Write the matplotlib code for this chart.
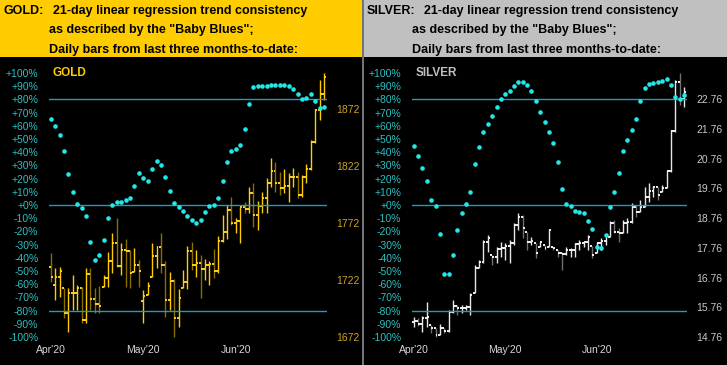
import numpy as np
import matplotlib.pyplot as plt
from matplotlib.patches import Rectangle
from matplotlib.lines import Line2D

W, H = 727, 365

months = ["Apr'20", "May'20", "Jun'20"]
month_idx = [0, 21, 42]
pct_ticks = list(range(-100, 101, 10))

# gold: "Baby Blues" (%) and daily OHLC
gold_bb = [65.4, 59.8, 52.8, 41.2, 23.5, 10.1, 0.8, -2, -8.3, -27.8,
           -41.7, -38.1, -26.8, -9.6, 0.3, 2.5, 2.5, 3.8, 5.1, 14.4,
           24, 20.2, 18.4, 27, 33.1, 30.5, 21.2, 10.8, 1.3, -1.3,
           -4.3, -8.3, -11.4, -13.4, -11.4, -5, -0.8, 0.3, 5.6, 18.4,
           32.3, 41.2, 42.2, 45.2, 57.8, 76.8, 89.4, 90.2, 90.2, 90.2,
           90.7, 90.7, 90.7, 91.2, 89.9, 88.1, 84.1, 80.3, 81.3, 84.1,
           79, 73.7, 74.2]
gold_open = [1733, 1718, 1724.4, 1730.2, 1693.4, 1710.3, 1710.9, 1714.7, 1686.9, 1727.3,
             1705.1, 1701.0, 1699.2, 1724.1, 1738.7, 1754.2, 1734.6, 1748.3, 1747.8, 1727.9,
             1735.2, 1703.9, 1708.0, 1716.8, 1743.1, 1750.7, 1735.2, 1704.5, 1721.4, 1688.4,
             1706.0, 1720.6, 1747.8, 1735.2, 1737.2, 1731.7, 1735.2, 1736.1, 1730.2, 1756.2,
             1764.4, 1783.4, 1772.3, 1774.1, 1785.8, 1784.3, 1798.0, 1779.0, 1787.2, 1794.2,
             1807.4, 1817.6, 1807.4, 1802.4, 1804.5, 1812.7, 1812.7, 1796.6, 1812.1, 1819.1,
             1843.4, 1871.1, 1884.9]
gold_high = [1746.0, 1732.3, 1733.7, 1714.7, 1714.7, 1726.4, 1717.6, 1716.2, 1732.3, 1732.3,
             1714.7, 1716.8, 1726.4, 1746.9, 1763.0, 1776.1, 1754.2, 1757.7, 1748.3, 1749.8,
             1739.6, 1713.3, 1720.6, 1754.8, 1751.9, 1763.0, 1739.0, 1729.3, 1722.9, 1713.8,
             1730.8, 1751.9, 1755.7, 1748.3, 1744.0, 1740.2, 1739.0, 1748.9, 1760.6, 1779.0,
             1787.8, 1795.1, 1776.1, 1786.4, 1790.1, 1803.9, 1807.4, 1791.6, 1799.5, 1811.2,
             1829.3, 1825.8, 1817.0, 1819.1, 1815.6, 1820.0, 1817.0, 1814.1, 1823.8, 1844.8,
             1871.7, 1897.5, 1903.9]
gold_low = [1720.6, 1704.5, 1707.4, 1688.4, 1676.7, 1695.7, 1695.7, 1684.0, 1684.0, 1695.7,
            1692.8, 1693.4, 1716.2, 1716.2, 1727.9, 1733.7, 1726.4, 1716.2, 1714.7, 1729.3,
            1716.2, 1684.0, 1708.9, 1724.9, 1732.3, 1727.9, 1689.9, 1695.7, 1672.3, 1681.1,
            1714.7, 1713.8, 1730.8, 1724.9, 1706.0, 1722.0, 1717.6, 1723.5, 1728.5, 1755.7,
            1757.7, 1770.3, 1763.5, 1754.2, 1780.5, 1780.5, 1768.8, 1765.9, 1780.5, 1780.5,
            1803.9, 1799.5, 1796.6, 1798.0, 1790.7, 1803.9, 1793.6, 1795.1, 1806.8, 1818.5,
            1841.9, 1862.4, 1879.9]
gold_close = [1724.4, 1724.4, 1730.2, 1693.4, 1710.3, 1710.9, 1714.7, 1686.9, 1727.3, 1705.1,
              1701.0, 1699.2, 1724.1, 1738.7, 1754.2, 1734.6, 1748.3, 1747.8, 1727.9, 1735.2,
              1730.0, 1708.0, 1716.8, 1743.1, 1750.7, 1735.2, 1704.5, 1721.4, 1688.4, 1706.0,
              1720.6, 1747.8, 1735.2, 1737.2, 1731.7, 1735.2, 1736.1, 1730.2, 1756.2, 1764.4,
              1783.4, 1772.3, 1774.1, 1785.8, 1784.3, 1798.0, 1779.0, 1787.2, 1794.2, 1807.4,
              1817.6, 1807.4, 1802.4, 1804.5, 1812.7, 1812.7, 1796.6, 1812.1, 1819.1, 1843.4,
              1871.1, 1884.9, 1900.4]
gold_price_ticks = [1672, 1722, 1772, 1822, 1872]

# silver
silver_bb = [44.7, 37.1, 28.3, 18.4, 3.8, -0.8, -22.2, -52.3, -52.3, -38.1,
             -18.9, -6.3, 0.8, 10.1, 31.1, 43.7, 55.1, 61.4, 67.4, 74.2,
             80.1, 84.3, 86.6, 90.2, 93, 93, 90.7, 86.6, 79, 70.7,
             62.7, 55.1, 46.7, 32.3, 11.9, 0.8, -0.5, -4.5, -5.3, -6.3,
             -11.9, -18, -31.6, -32.8, -22.5, -1.5, 9.6, 24.5, 41.1, 49,
             56.6, 64.9, 78.6, 88.9, 91.4, 92.2, 93.2, 94.2, 95.2, 91.1,
             82, 80.5, 83.6]
silver_open = [15.25, 15.31, 15.20, 15.39, 15.42, 15.05, 14.83, 15.05, 14.97, 15.61,
               15.80, 15.72, 15.72, 15.76, 16.17, 17.07, 17.30, 17.97, 18.08, 17.46,
               17.71, 17.74, 17.82, 17.91, 18.53, 18.81, 18.42, 17.97, 18.00, 17.60,
               17.95, 17.74, 18.36, 17.74, 17.60, 17.55, 17.69, 17.69, 17.89, 17.91,
               17.97, 18.14, 17.52, 17.91, 18.00, 18.05, 18.58, 18.30, 18.27, 18.61,
               18.64, 19.15, 18.98, 19.15, 19.48, 19.68, 19.82, 19.54, 19.76, 20.36,
               21.70, 23.35, 22.76]
silver_high = [15.44, 15.39, 15.47, 15.95, 15.16, 15.05, 15.20, 15.05, 15.67, 16.00,
               15.84, 15.84, 15.84, 16.23, 17.18, 17.35, 18.02, 18.19, 17.52, 17.80,
               17.97, 17.91, 18.02, 18.58, 18.92, 18.87, 18.30, 18.14, 17.91, 17.97,
               17.86, 18.38, 17.80, 17.69, 17.63, 17.80, 17.74, 17.91, 18.02, 18.00,
               18.19, 17.82, 17.97, 18.08, 18.14, 18.67, 18.70, 18.42, 18.70, 18.75,
               19.26, 19.20, 19.37, 19.82, 19.95, 19.84, 19.82, 19.87, 20.38, 21.72,
               23.41, 23.65, 23.18]
silver_low = [15.11, 15.13, 14.94, 15.11, 14.88, 14.77, 14.83, 14.88, 14.94, 15.56,
              15.50, 15.56, 15.67, 15.50, 16.23, 17.07, 17.24, 17.63, 17.18, 17.24,
              17.46, 17.35, 17.24, 17.86, 18.36, 18.08, 17.69, 17.86, 17.41, 17.80,
              17.69, 17.80, 17.69, 17.46, 17.01, 17.52, 17.46, 17.46, 17.69, 17.80,
              17.69, 17.41, 17.58, 17.69, 17.86, 18.14, 18.25, 17.97, 18.25, 18.25,
              18.58, 18.81, 18.98, 19.15, 19.31, 19.48, 19.37, 19.65, 19.76, 20.32,
              21.67, 22.57, 22.51]
silver_close = [15.31, 15.20, 15.39, 15.42, 15.05, 14.83, 15.05, 14.97, 15.61, 15.80,
                15.72, 15.72, 15.76, 16.17, 17.07, 17.30, 17.97, 18.08, 17.46, 17.71,
                17.74, 17.82, 17.91, 18.53, 18.81, 18.42, 17.97, 18.00, 17.60, 17.95,
                17.74, 18.36, 17.74, 17.60, 17.55, 17.69, 17.69, 17.89, 17.91, 17.97,
                18.14, 17.52, 17.91, 18.00, 18.05, 18.58, 18.30, 18.27, 18.61, 18.64,
                19.15, 18.98, 19.15, 19.48, 19.68, 19.82, 19.54, 19.76, 20.36, 21.70,
                23.35, 22.76, 23.01]
silver_price_ticks = [14.76, 15.76, 16.76, 17.76, 18.76, 19.76, 20.76, 21.76, 22.76]

plt.rcParams['font.family'] = ['Liberation Sans', 'DejaVu Sans']

fig = plt.figure(figsize=(W / 100, H / 100), dpi=100, facecolor='black')


def fx(x):
    return x / W


def fy(y):
    return 1 - y / H


PCT_COL = '#2fbfc0'
LINE_COL = '#1e9cc4'
DOT_COL = '#22e8e8'


def panel(x0, x1, bb, o, hi, lo, c, pticks, pfmt, plim, up_col, dn_col, tick_col,
          pcol, head_x, head_bg, head_name, name_col, txt_x, body_x, price_pad):
    # header box
    fig.add_artist(Rectangle((fx(head_x[0]), fy(56.5)), fx(head_x[1] - head_x[0]), 56.5 / H,
                             transform=fig.transFigure, color=head_bg, lw=0))
    fig.text(fx(txt_x), fy(14.3), head_name + ":", fontsize=9, fontweight='bold',
             color='black', va='baseline')
    fig.text(fx(body_x), fy(14.3), "21-day linear regression trend consistency",
             fontsize=9, fontweight='bold', color='black', va='baseline')
    fig.text(fx(txt_x + 45.3), fy(33.5), 'as described by the "Baby Blues";',
             fontsize=9, fontweight='bold', color='black', va='baseline')
    fig.text(fx(txt_x + 45.3), fy(52.6), "Daily bars from last three months-to-date:",
             fontsize=9, fontweight='bold', color='black', va='baseline')

    ax = fig.add_axes([fx(x0), fy(340), fx(x1 - x0), 280 / H])
    ax.set_facecolor('black')
    ax2 = ax.twinx()

    n = len(c)
    idx = np.arange(n)
    o = np.clip(o, lo, hi)
    cols = [up_col if c[i] >= o[i] else dn_col for i in range(n)]
    ax.vlines(idx, lo, hi, colors=cols, lw=1.0)
    ax.hlines(o, idx - 0.45, idx, colors=tick_col, lw=1.4)
    ax.hlines(c, idx, idx + 0.45, colors=tick_col, lw=1.4)
    ax.set_ylim(*plim)
    ax.set_xlim(-0.33, 62.62)
    ax.set_yticks(pticks)
    ax.set_yticklabels([pfmt.format(v) for v in pticks])
    ax.tick_params(axis='y', length=0, pad=price_pad, labelsize=7.5, labelcolor=pcol,
                   left=False, labelleft=False, right=False, labelright=True)
    ax.set_xticks(month_idx)
    ax.set_xticklabels(months)
    ax.tick_params(axis='x', length=0, pad=3.5, labelsize=7.5, labelcolor='#d8d8d8')
    for s in ax.spines.values():
        s.set_visible(False)

    ax2.set_ylim(-102.3, 109.8)
    ax2.set_yticks(pct_ticks)
    ax2.set_yticklabels([('+%d%%' % v) if v >= 0 else ('%d%%' % v) for v in pct_ticks])
    ax2.tick_params(axis='y', length=0, pad=7.9, labelsize=7.5, labelcolor=PCT_COL,
                    left=False, labelleft=True, right=False, labelright=False)
    for lvl in [80, 0, -80]:
        ax2.axhline(lvl, color=LINE_COL, lw=1.0, zorder=1)
    ax2.plot(idx, bb, 'o', color=DOT_COL, ms=3.3, mew=0, zorder=3)
    for s in ax2.spines.values():
        s.set_visible(False)

    fig.text(fx(x0 + 3.4), fy(72.7), head_name, fontsize=8.5, fontweight='bold',
             color=name_col, va='center')


panel(49.3, 326.7, gold_bb, gold_open, gold_high, gold_low, gold_close,
      gold_price_ticks, '{:.0f}', (1669.4, 1915.0), '#ffcc00', '#8a6f00', '#ffd21a',
      '#c9a424', (0, 362.3), '#ffcc00', 'GOLD', '#ffcc00', 4, 52.7, 7.2)
panel(412.3, 686.7, silver_bb, silver_open, silver_high, silver_low, silver_close,
      silver_price_ticks, '{:.2f}', (14.66, 24.08), '#e6e6e6', '#6e6e6e', '#f0f0f0',
      '#c8c8c8', (364, 727), '#c0c0c0', 'SILVER', '#c0c0c0', 366.3, 424, 6.7)

# grey divider between the two panels
fig.add_artist(Line2D([fx(363.2), fx(363.2)], [0, 1], transform=fig.transFigure,
                      color='#8c8c8c', lw=1.2))

fig.savefig('out.png', dpi=100, facecolor='black')
